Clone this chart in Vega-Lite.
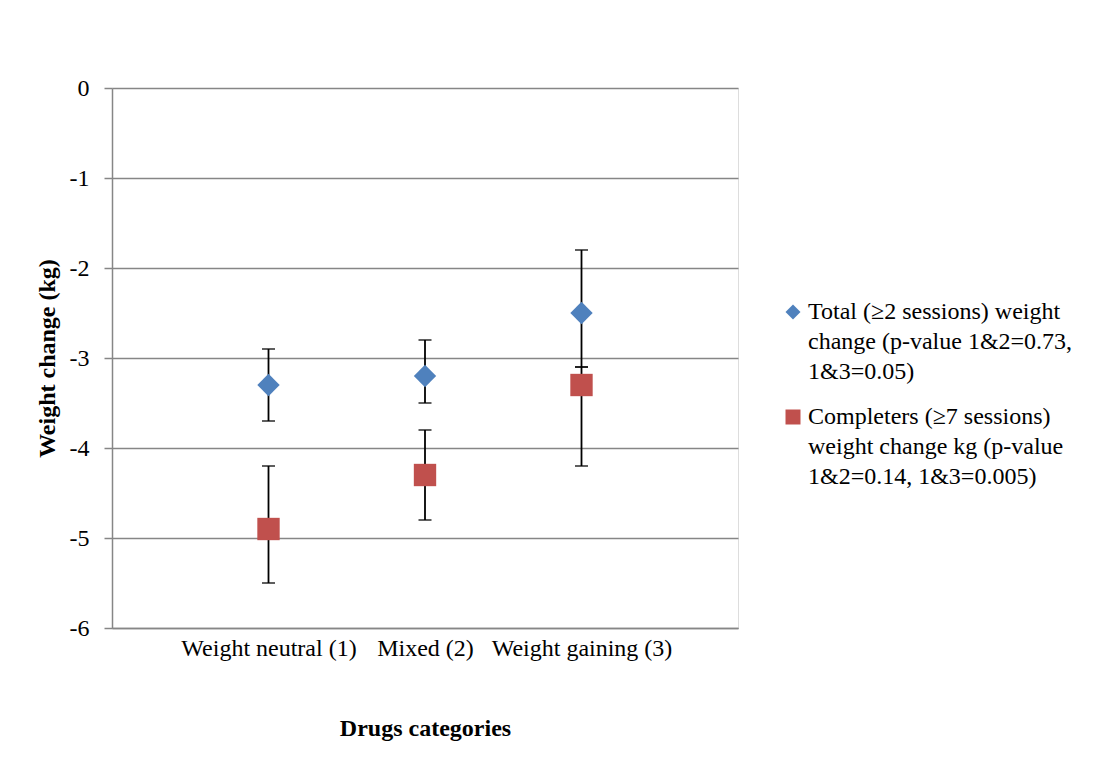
{
  "$schema": "https://vega.github.io/schema/vega-lite/v6.json",
  "width": 626,
  "height": 540,
  "autosize": {"type": "none"},
  "padding": {"left": 112, "top": 88, "right": 377, "bottom": 139},
  "background": "white",
  "data": {
    "values": [
      {"category": "Weight neutral (1)", "series": "Total", "value": -3.3, "lo": -3.7, "hi": -2.9},
      {"category": "Mixed (2)", "series": "Total", "value": -3.2, "lo": -3.5, "hi": -2.8},
      {"category": "Weight gaining (3)", "series": "Total", "value": -2.5, "lo": -3.1, "hi": -1.8},
      {"category": "Weight neutral (1)", "series": "Completers", "value": -4.9, "lo": -5.5, "hi": -4.2},
      {"category": "Mixed (2)", "series": "Completers", "value": -4.3, "lo": -4.8, "hi": -3.8},
      {"category": "Weight gaining (3)", "series": "Completers", "value": -3.3, "lo": -4.2, "hi": -3.1}
    ]
  },
  "encoding": {
    "x": {
      "field": "category",
      "type": "nominal",
      "sort": ["Weight neutral (1)", "Mixed (2)", "Weight gaining (3)"],
      "scale": {"type": "point", "padding": 1},
      "axis": {
        "title": "Drugs categories",
        "labelAngle": 0,
        "ticks": false,
        "labelPadding": 8,
        "labelOverlap": false,
        "labelLimit": 300,
        "labelFont": "Liberation Serif",
        "labelFontSize": 24,
        "labelColor": "#000000",
        "titleFont": "Liberation Serif",
        "titleFontSize": 24,
        "titleFontWeight": "bold",
        "titleColor": "#000000",
        "titlePadding": 56,
        "domainColor": "#868686",
        "domainWidth": 1.5,
        "grid": false
      }
    }
  },
  "layer": [
    {
      "mark": {"type": "rule", "color": "#000000", "strokeWidth": 1.8},
      "encoding": {
        "y": {
          "field": "lo",
          "type": "quantitative",
          "scale": {"domain": [-6, 0], "nice": false},
          "axis": {
            "title": "Weight change (kg)",
            "values": [-6, -5, -4, -3, -2, -1, 0],
            "labelExpr": "'' + datum.value",
            "grid": true,
            "gridColor": "#868686",
            "gridWidth": 1.5,
            "domainColor": "#868686",
            "domainWidth": 1.5,
            "tickColor": "#868686",
            "tickSize": 8,
            "tickWidth": 1.5,
            "labelPadding": 15,
            "labelFont": "Liberation Serif",
            "labelFontSize": 24,
            "labelColor": "#000000",
            "titleFont": "Liberation Serif",
            "titleFontSize": 24,
            "titleFontWeight": "bold",
            "titleColor": "#000000",
            "titlePadding": 10
          }
        },
        "y2": {"field": "hi"}
      }
    },
    {
      "mark": {"type": "tick", "color": "#000000", "orient": "horizontal", "size": 13, "thickness": 1.8},
      "encoding": {"y": {"field": "lo", "type": "quantitative"}}
    },
    {
      "mark": {"type": "tick", "color": "#000000", "orient": "horizontal", "size": 13, "thickness": 1.8},
      "encoding": {"y": {"field": "hi", "type": "quantitative"}}
    },
    {
      "mark": {"type": "point", "filled": true, "opacity": 1, "size": 500},
      "encoding": {
        "y": {"field": "value", "type": "quantitative"},
        "color": {
          "field": "series",
          "type": "nominal",
          "scale": {"domain": ["Total", "Completers"], "range": ["#4F81BD", "#C0504D"]},
          "legend": {
            "orient": "none",
            "legendX": 669,
            "legendY": 212,
            "title": null,
            "padding": 0,
            "symbolSize": 225,
            "symbolOpacity": 1,
            "labelOffset": 3,
            "labelFont": "Liberation Serif",
            "labelFontSize": 24,
            "labelColor": "#000000",
            "labelLimit": 400,
            "labelBaseline": "middle",
            "rowPadding": 21,
            "labelExpr": "datum.label == 'Total' ? ['Total (≥2 sessions) weight', 'change (p-value 1&2=0.73,', '1&3=0.05)'] : ['Completers (≥7 sessions)', 'weight change kg (p-value', '1&2=0.14, 1&3=0.005)']",
            "encode": {"labels": {"update": {"lineHeight": {"value": 30}}}}
          }
        },
        "shape": {
          "field": "series",
          "type": "nominal",
          "scale": {"domain": ["Total", "Completers"], "range": ["diamond", "square"]}
        }
      }
    }
  ]
}
